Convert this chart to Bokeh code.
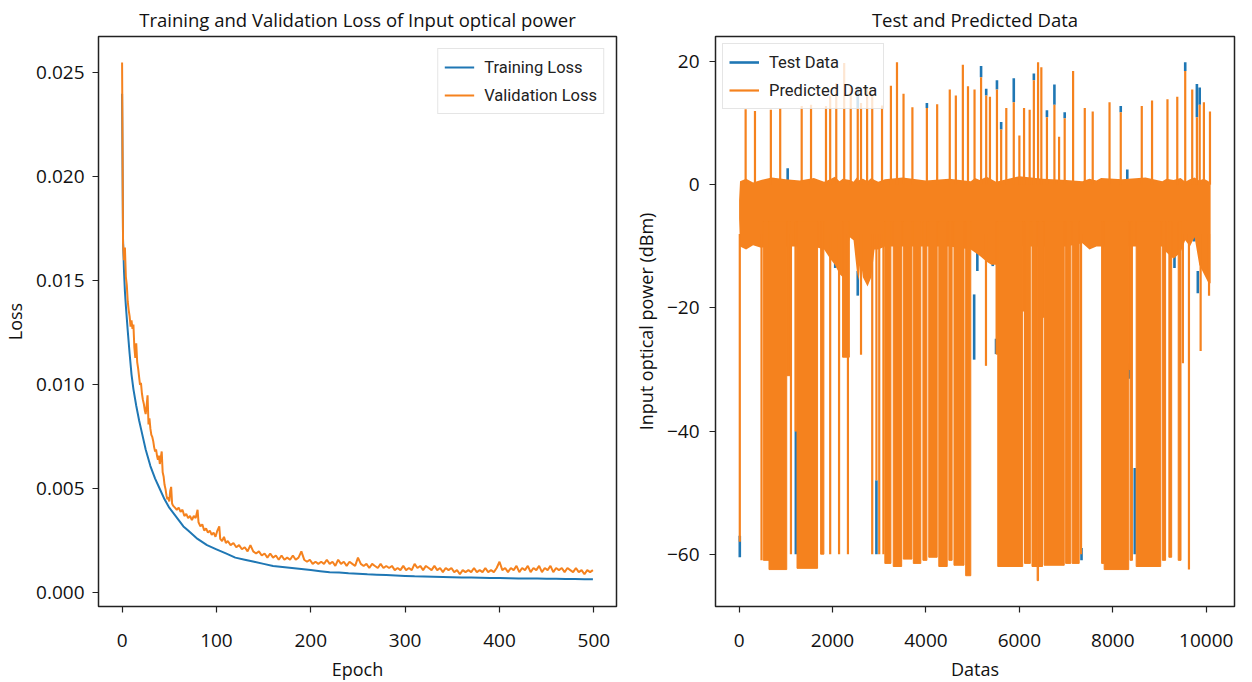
from bokeh.plotting import figure
from bokeh.layouts import row
from bokeh.models import (Range1d, Legend, LegendItem, FixedTicker,
                          NumeralTickFormatter, CustomJSTickFormatter)
from bokeh.embed import file_html
from bokeh.resources import INLINE

BLUE = "#1f77b4"
ORANGE = "#f5821e"
FONT = "Open Sans"
LEGEND_FONT = "Roboto"

# ---------------- left panel: training history ----------------
train_epoch = [0, 1, 2, 3, 4, 5, 6, 8, 10, 12, 15, 18, 20, 25, 30, 35, 40, 45, 50, 55,
               60, 65, 70, 75, 80, 90, 100, 110, 120, 130,
               140, 150, 160, 170, 180, 190, 200, 210, 220, 230,
               240, 250, 260, 270, 280, 290, 300, 310, 320, 330,
               340, 350, 360, 370, 380, 390, 400, 410, 420, 430,
               440, 450, 460, 470, 480, 490, 499]
train_loss = [0.0240, 0.0170, 0.0155, 0.0145, 0.0138, 0.0132, 0.0126, 0.0115, 0.0105, 0.0098,
              0.0090, 0.0083, 0.0079, 0.0069, 0.0061, 0.0055, 0.0050, 0.0045, 0.0041, 0.0038,
              0.0035, 0.0032, 0.0030, 0.0028, 0.0026, 0.0023, 0.0021, 0.0019, 0.0017, 0.0016,
              0.0015, 0.0014, 0.0013, 0.00125, 0.0012, 0.00115, 0.0011, 0.00105, 0.0010, 0.00098,
              0.00095, 0.00093, 0.0009, 0.00088, 0.00086, 0.00084, 0.00082, 0.0008, 0.00079, 0.00078,
              0.00077, 0.00076, 0.00075, 0.00074, 0.00073, 0.00072, 0.00072, 0.00071, 0.0007, 0.0007,
              0.00069, 0.00068, 0.00068, 0.00067, 0.00067, 0.00066, 0.00066]

val_epoch = (list(range(55))
             + [56, 58, 60, 62, 64, 66, 68, 70, 72, 74, 76, 78, 80, 81, 83, 85, 87, 89, 91, 93,
                95, 97, 99, 101, 103, 104, 106, 108, 110]
             + list(range(112, 500, 3)))
val_loss = [0.0255, 0.0168, 0.0160, 0.0166, 0.0152, 0.0148, 0.0140, 0.0136, 0.0133, 0.0128,
            0.0131, 0.0127, 0.0129, 0.0118, 0.0113, 0.0120, 0.0111, 0.0108, 0.0104, 0.0100,
            0.0101, 0.0096, 0.0093, 0.0091, 0.0088, 0.0086, 0.0090, 0.0095, 0.0081, 0.0084,
            0.0079, 0.0076, 0.0075, 0.0073, 0.0070, 0.0068, 0.0069, 0.0066, 0.0064, 0.0066,
            0.0062, 0.0065, 0.0068, 0.0058, 0.0056, 0.0052, 0.0050, 0.0047, 0.0045, 0.0046,
            0.0044, 0.0049, 0.0051, 0.0043, 0.0042,
            0.0041, 0.0040, 0.0041, 0.0039, 0.0040, 0.0037, 0.0038, 0.0036, 0.0037, 0.0035,
            0.0037, 0.0036, 0.0040, 0.0034, 0.0032, 0.0033, 0.0030, 0.0031, 0.0029, 0.0030,
            0.0028, 0.0029, 0.0027, 0.0030, 0.0032, 0.0026, 0.0025, 0.0027, 0.0024,
            0.0025, 0.0023, 0.0024, 0.0022, 0.0023, 0.0021, 0.0022, 0.0020, 0.0023, 0.0020,
            0.0019, 0.0020, 0.0018, 0.0019, 0.0017, 0.0019, 0.0017, 0.0018, 0.0016, 0.0018,
            0.0016, 0.0017, 0.0016, 0.0018, 0.0016, 0.0017, 0.0020, 0.0016, 0.0015, 0.0016,
            0.0014, 0.0015, 0.0014, 0.0015, 0.0014, 0.0016, 0.0014, 0.0015, 0.0013, 0.0016,
            0.0014, 0.0015, 0.0013, 0.0015, 0.0014, 0.0013, 0.0017, 0.0014, 0.0013, 0.0014,
            0.0012, 0.0014, 0.0013, 0.0012, 0.0014, 0.0012, 0.0013, 0.0012, 0.0013, 0.0011,
            0.0012, 0.0011, 0.0013, 0.0011, 0.0012, 0.0011, 0.0014, 0.0012, 0.0013, 0.0011,
            0.0013, 0.0012, 0.0011, 0.0013, 0.0011, 0.0012, 0.0010, 0.0012, 0.0011, 0.0012,
            0.0010, 0.0011, 0.0009, 0.0011, 0.0010, 0.0011, 0.0010, 0.0012, 0.0010, 0.0011,
            0.0010, 0.0012, 0.0010, 0.0011, 0.0010, 0.0012, 0.0015, 0.0011, 0.0012, 0.0010,
            0.0012, 0.0011, 0.0013, 0.0010, 0.0012, 0.0011, 0.0013, 0.0010, 0.0012, 0.0011,
            0.0013, 0.0010, 0.0012, 0.0011, 0.0013, 0.0010, 0.0012, 0.0011, 0.0012, 0.0010,
            0.0012, 0.0011, 0.0010, 0.0012, 0.0010, 0.0011, 0.0009, 0.0011, 0.0010, 0.0011]

loss_ticks = [0.0, 0.005, 0.010, 0.015, 0.020, 0.025]
epoch_ticks = [0, 100, 200, 300, 400, 500]

# ---------------- right panel: test vs predicted ----------------
# dense band around 0 dBm (predicted)
core_x = [0, 20, 150, 300, 470, 700, 1000, 1300, 1600, 1820,
          1950, 2050, 2150, 2220, 2370, 2450, 2520, 2560, 2600, 2650,
          2750, 2830, 2900, 2980, 3120, 3500, 4000, 4500, 4960, 5050,
          5150, 5300, 5400, 5500, 6000, 6500, 7000, 7350, 7500, 7650,
          7750, 8200, 8700, 9060, 9150, 9300, 9450, 9550, 9650, 9750,
          9850, 9950, 10050, 10094]
core_top = [-2.5, 0.6, 1.0, 0.4, 0.8, 1.2, 0.9, 0.7, 1.1, 0.5,
            0.9, 1.3, 0.6, 1.0, 0.8, 0.5, 1.2, 0.7, 0.9, 1.0,
            0.6, 1.1, 0.8, 0.5, 0.9, 1.2, 0.7, 1.0, 0.6, 1.1,
            0.8, 1.3, 0.9, 0.5, 1.4, 1.0, 0.8, 0.6, 1.0, 0.7,
            1.1, 0.9, 1.2, 0.6, 1.0, 0.8, 1.1, 0.5, 0.9, 1.2,
            0.7, 1.0, 0.6, 0.0]
core_bot = [-5.5, -10.0, -10.5, -9.8, -10.2, -10.0, -10.0, -10.0, -10.0, -10.5,
            -12.0, -13.0, -14.5, -15.0, -8.5, -9.0, -14.0, -15.5, -12.0, -15.0,
            -16.5, -15.0, -10.5, -10.5, -10.0, -10.0, -10.0, -10.0, -10.5, -11.0,
            -11.5, -12.5, -13.0, -13.0, -10.0, -10.0, -10.0, -9.5, -10.5, -10.0,
            -10.0, -10.0, -10.0, -10.0, -11.0, -12.0, -11.0, -9.0, -10.0, -8.5,
            -13.0, -14.5, -16.0, -16.0]

# dense stretches reaching deep (predicted)
block_left = [520, 640, 1020, 1195, 1240, 1745, 2215, 3120, 3300, 3515,
              3730, 3935, 4060, 4275, 4490, 4600, 4850, 5500, 5537, 6071,
              6110, 6270, 6380, 6410, 6495, 6530, 6990, 7130, 7760, 7815,
              8340, 8370, 8500, 9060, 9200, 9400]
block_right = [640, 1020, 1100, 1235, 1680, 1815, 2360, 3250, 3480, 3700,
               3890, 4020, 4240, 4455, 4560, 4815, 4960, 5537, 6071, 6110,
               6235, 6380, 6410, 6495, 6530, 6960, 7100, 7280, 7815, 8340,
               8370, 8420, 9025, 9130, 9260, 9460]
block_bottom = [-61.0, -62.5, -31.0, -40.0, -62.3, -60.0, -28.0, -61.5, -62.0, -60.8,
                -61.5, -61.0, -60.5, -62.0, -61.0, -61.8, -63.5, -27.5, -62.0, -20.5,
                -61.5, -62.0, -64.3, -62.0, -21.5, -61.8, -61.5, -61.5, -61.5, -62.5,
                -30.0, -61.0, -62.0, -61.0, -60.5, -61.0]

# isolated downward excursions (predicted)
drop_x = [15, 480, 1110, 1950, 2140, 2330, 2610, 2850, 2940, 3000,
          3090, 5285, 7320, 9500, 9630, 9880, 10060]
drop_bottom = [-58.0, -61.0, -60.0, -60.0, -60.0, -60.0, -27.6, -60.0, -48.0, -60.0,
               -60.0, -29.4, -60.0, -29.0, -62.5, -27.0, -18.0]

# upward excursions (predicted)
spike_x = [140, 340, 680, 880, 1340, 1540, 1860, 1950, 2080, 2250,
           2390, 2540, 2610, 2740, 2850, 3060, 3250, 3380, 3520, 3710,
           4020, 4240, 4510, 4640, 4790, 4900, 5040, 5180, 5290, 5370,
           5520, 5610, 5720, 5880, 6000, 6100, 6220, 6310, 6400, 6470,
           6590, 6750, 6850, 6970, 7150, 7400, 7570, 7930, 8170, 8620,
           8840, 9170, 9380, 9550, 9700, 9800, 9860, 9950, 10080]
spike_top = [12.3, 12.0, 12.2, 12.5, 12.8, 13.0, 12.8, 14.5, 16.5, 19.8,
             15.8, 12.5, 13.3, 15.8, 14.7, 12.9, 16.1, 19.9, 14.8, 12.6,
             12.5, 13.1, 15.5, 14.5, 19.5, 16.0, 15.5, 17.5, 14.5, 14.3,
             15.5, 9.0, 12.5, 13.4, 8.0, 12.5, 12.2, 17.0, 19.9, 19.1,
             11.0, 13.0, 7.8, 10.8, 18.5, 12.5, 11.9, 13.4, 11.8, 12.8,
             13.7, 13.9, 14.3, 18.5, 15.5, 11.0, 13.0, 13.4, 11.9]

# test data where it shows beyond the predicted trace
test_x = [15, 1040, 1215, 2058, 2540, 2540, 2940, 4020, 5032, 5100,
          5180, 5290, 5430, 5500, 5520, 5610, 5880, 6310, 6590, 6750,
          6970, 7330, 8170, 8310, 8350, 8470, 9320, 9550, 9740, 9800,
          9820, 9860]
test_from = [-57.0, 0.5, -40.0, -11.0, -14.0, 12.5, -48.0, 12.5, -17.8, -11.0,
             17.5, 14.5, -12.0, -25.0, 15.5, 9.0, 13.4, 17.0, 11.0, 13.0,
             10.8, -59.0, 11.8, 0.5, -29.0, -46.0, -10.5, 18.5, -8.0, 11.0,
             -14.0, 13.0]
test_to = [-60.5, 2.7, -60.0, -13.5, -18.0, 16.0, -60.0, 13.3, -28.4, -14.0,
           19.3, 15.6, -13.2, -27.5, 17.0, 10.2, 17.3, 18.1, 12.1, 16.3,
           11.8, -61.0, 12.8, 2.5, -31.5, -60.0, -13.5, 19.9, -9.2, 16.4,
           -17.6, 15.8]

power_ticks = [-60, -40, -20, 0, 20]
index_ticks = [0, 2000, 4000, 6000, 8000, 10000]


def make_fig(title, xr, yr, fw, bl, br):
    p = figure(frame_width=fw, frame_height=570, x_range=xr, y_range=yr,
               output_backend="svg", toolbar_location=None, title=title,
               min_border_left=bl, min_border_right=br,
               min_border_top=32, min_border_bottom=72)
    p.title.text_font = FONT
    p.title.text_font_size = "18.5px"
    p.title.text_font_style = "normal"
    p.title.text_color = "#111111"
    p.title.align = "center"
    p.title.standoff = 9
    p.xgrid.visible = False
    p.ygrid.visible = False
    p.outline_line_color = "#222222"
    p.outline_line_width = 1.5
    p.outline_line_alpha = 1.0
    for ax in (p.xaxis[0], p.yaxis[0]):
        ax.axis_line_color = None
        ax.major_tick_in = 0
        ax.major_tick_out = 6
        ax.major_tick_line_color = "#222222"
        ax.major_tick_line_width = 1.2
        ax.minor_tick_line_color = None
        ax.major_label_text_font = FONT
        ax.major_label_text_font_size = "19px"
        ax.major_label_text_color = "#111111"
        ax.axis_label_text_font = FONT
        ax.axis_label_text_font_size = "18px"
        ax.axis_label_text_font_style = "normal"
        ax.axis_label_text_color = "#111111"
    p.xaxis[0].major_label_standoff = 21
    p.xaxis[0].axis_label_standoff = 7
    return p


def style_legend(leg, margin):
    leg.label_text_font = LEGEND_FONT
    leg.label_text_font_size = "16.5px"
    leg.label_text_color = "#222222"
    leg.glyph_width = 30
    leg.glyph_height = 24
    leg.label_height = 24
    leg.label_standoff = 10
    leg.spacing = 4
    leg.padding = 6
    leg.margin = margin
    leg.border_line_color = "#cccccc"
    leg.border_line_width = 1
    leg.background_fill_color = "white"
    leg.background_fill_alpha = 0.8


# ---- left figure ----
p1 = make_fig("Training and Validation Loss of Input optical power",
              Range1d(-25, 524), Range1d(-0.00065, 0.02675), 518, 97, 14)
p1.xaxis[0].axis_label = "Epoch"
p1.yaxis[0].axis_label = "Loss"
p1.xaxis[0].ticker = FixedTicker(ticks=epoch_ticks)
p1.yaxis[0].ticker = FixedTicker(ticks=loss_ticks)
p1.yaxis[0].formatter = NumeralTickFormatter(format="0.000")
p1.yaxis[0].major_label_standoff = 8
p1.yaxis[0].axis_label_standoff = 6
r_train = p1.line(train_epoch, train_loss, line_color=BLUE, line_width=2)
r_val = p1.line(val_epoch, val_loss, line_color=ORANGE, line_width=2)
leg1 = Legend(items=[LegendItem(label="Training Loss", renderers=[r_train]),
                     LegendItem(label="Validation Loss", renderers=[r_val])],
              location="top_right")
style_legend(leg1, 12)
p1.add_layout(leg1)

# ---- right figure ----
p2 = make_fig("Test and Predicted Data",
              Range1d(-505, 10605), Range1d(-68.5, 24.1), 519, 83, 5)
p2.xaxis[0].axis_label = "Datas"
p2.yaxis[0].axis_label = "Input optical power (dBm)"
p2.xaxis[0].ticker = FixedTicker(ticks=index_ticks)
p2.yaxis[0].ticker = FixedTicker(ticks=power_ticks)
p2.yaxis[0].formatter = CustomJSTickFormatter(
    code="return tick < 0 ? '\\u2212' + Math.abs(tick) : String(tick);")
p2.yaxis[0].major_label_standoff = 10
p2.yaxis[0].axis_label_standoff = 6

r_test = p2.segment(x0=test_x, y0=test_from, x1=test_x, y1=test_to,
                    line_color=BLUE, line_width=2.6)
p2.varea(x=core_x, y1=core_bot, y2=core_top, fill_color=ORANGE)
p2.quad(left=block_left, right=block_right, top=[-6.0] * len(block_left),
        bottom=block_bottom, fill_color=ORANGE, line_color=ORANGE, line_width=1)
r_pred = p2.segment(x0=drop_x, y0=[-8.0] * len(drop_x), x1=drop_x, y1=drop_bottom,
                    line_color=ORANGE, line_width=2.2)
p2.segment(x0=spike_x, y0=[0.0] * len(spike_x), x1=spike_x, y1=spike_top,
           line_color=ORANGE, line_width=2.2)

leg2 = Legend(items=[LegendItem(label="Test Data", renderers=[r_test]),
                     LegendItem(label="Predicted Data", renderers=[r_pred])],
              location="top_left")
style_legend(leg2, 7)
p2.add_layout(leg2)

layout = row(p1, p2)
open("out.html", "w").write(file_html(layout, INLINE))
